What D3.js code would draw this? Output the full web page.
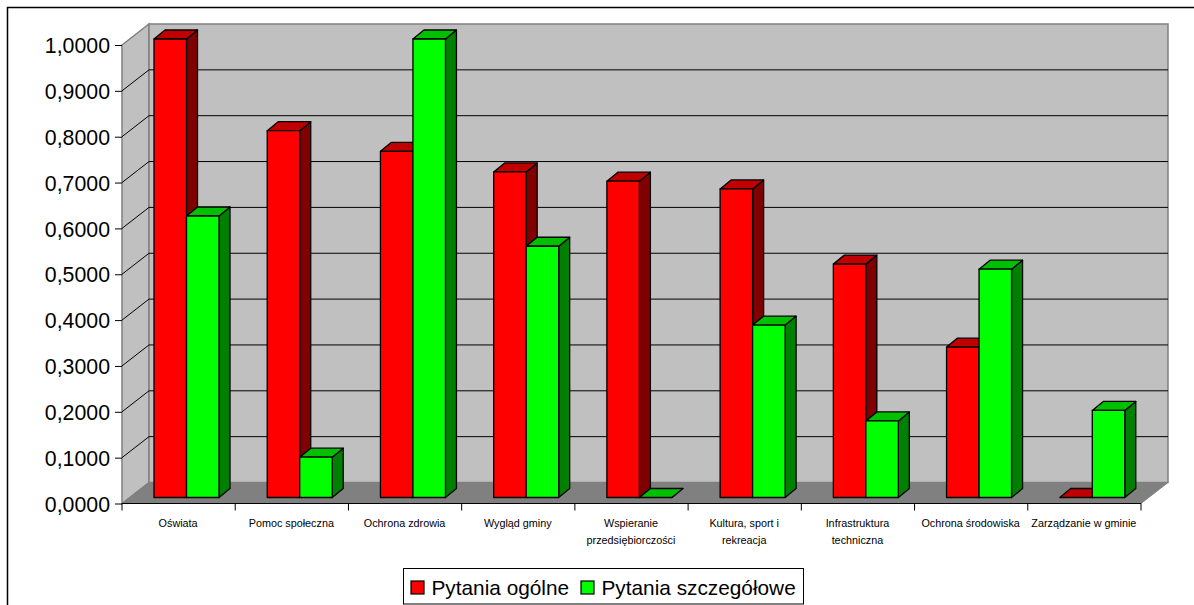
<!DOCTYPE html>
<html>
<head>
<meta charset="utf-8">
<script src="https://cdn.jsdelivr.net/npm/d3@7"></script>
<style>
  body { margin: 0; background: #fff; }
  svg { display: block; }
  text { font-family: "Liberation Sans", Arial, sans-serif; fill: #000; }
</style>
</head>
<body>
<script>
var categories = ["Oświata", "Pomoc społeczna", "Ochrona zdrowia", "Wygląd gminy", "Wspieranie\nprzedsiębiorczości",
  "Kultura, sport i\nrekreacja", "Infrastruktura\ntechniczna", "Ochrona środowiska", "Zarządzanie w gminie"];
var seriesNames = ["Pytania ogólne", "Pytania szczegółowe"];
var ogolne = [1.0, 0.8, 0.755, 0.71, 0.69, 0.673, 0.509, 0.328, 0];
var szczegolowe = [0.614, 0.088, 1.0, 0.548, 0, 0.376, 0.167, 0.498, 0.19];
var tickValues = [0, 0.1, 0.2, 0.3, 0.4, 0.5, 0.6, 0.7, 0.8, 0.9, 1];

var colors = { front: ["#ff0000", "#00ff00"], top: ["#c00000", "#00c000"], side: ["#800000", "#008000"] };

var svg = d3.select("body").append("svg").attr("width", 1194).attr("height", 605);

// outer frame, only top and left are visible
svg.append("path").attr("d", "M7.5,605V7.5H1194").attr("fill", "none").attr("stroke", "#000").attr("stroke-width", 1.5);

var x = d3.scaleBand().domain(categories).range([122, 1141]);
var y = d3.scaleLinear().domain([0, 1]).range([503.5, 45]);
var inner = d3.scaleBand().domain(seriesNames).range([0, 65]);

var wallDx = 27, wallDy = -21;     // depth of the whole box
var barDx = 8, barDy = -6;         // where bars stand on the floor
var depthX = 11, depthY = -9;      // depth of one bar
var groupLeft = 24;

// walls and floor
var x0 = x.range()[0], x1 = x.range()[1], yb = y(0), yt = y(1);
svg.append("polygon")
  .attr("points", [[x0, yt], [x0 + wallDx, yt + wallDy], [x0 + wallDx, yb + wallDy], [x0, yb]].join(" "))
  .attr("fill", "#c0c0c0").attr("stroke", "#808080").attr("stroke-width", 1.5);
svg.append("rect")
  .attr("x", x0 + wallDx).attr("y", yt + wallDy)
  .attr("width", x1 - x0).attr("height", yb - yt)
  .attr("fill", "#c0c0c0").attr("stroke", "#808080").attr("stroke-width", 1.5);
svg.append("polygon")
  .attr("points", [[x0, yb], [x0 + wallDx, yb + wallDy], [x1 + wallDx, yb + wallDy], [x1, yb]].join(" "))
  .attr("fill", "#808080").attr("stroke", "#808080");

// gridlines: along the side wall, then along the back wall
var grid = tickValues.slice(1, -1);
svg.selectAll("path.grid")
  .data(grid)
  .enter().append("path")
  .attr("class", "grid")
  .attr("fill", "none").attr("stroke", "#000").attr("stroke-width", 1)
  .attr("d", function (d) {
    return "M" + x0 + "," + y(d) + "L" + (x0 + wallDx) + "," + (y(d) + wallDy) + "H" + (x1 + wallDx);
  });

// y axis
var yAxis = d3.axisLeft(y).tickValues(tickValues).tickSize(7).tickPadding(5)
  .tickFormat(function (d) { return d3.format(".4f")(d).replace(".", ","); });
var gy = svg.append("g").attr("transform", "translate(" + x0 + ",0)").call(yAxis);
gy.select(".domain").remove();
gy.selectAll("text").attr("dy", "0.36em").style("font-size", "21.3px").style("font-family", '"Liberation Sans", Arial, sans-serif');

// x axis line and ticks between the categories
svg.append("line").attr("x1", x0).attr("x2", x1).attr("y1", yb).attr("y2", yb).attr("stroke", "#000").attr("stroke-width", 1.2);
svg.selectAll("line.xtick")
  .data(categories.map(function (c) { return x(c); }).concat([x1]))
  .enter().append("line")
  .attr("class", "xtick")
  .attr("x1", function (d) { return d; }).attr("x2", function (d) { return d; })
  .attr("y1", yb).attr("y2", yb + 7)
  .attr("stroke", "#000");

// category labels
svg.selectAll("text.cat")
  .data(categories)
  .enter().append("text")
  .attr("class", "cat")
  .attr("text-anchor", "middle")
  .style("font-size", "10.8px")
  .each(function (c) {
    d3.select(this).selectAll("tspan")
      .data(c.split("\n"))
      .enter().append("tspan")
      .attr("x", x(c) + x.bandwidth() / 2 - 0.5)
      .attr("y", function (d, i) { return 527 + i * 17; })
      .text(function (d) { return d; });
  });

// bars, red then green in each category so that green sits on top
var barData = [];
categories.forEach(function (c, i) {
  barData.push({ cat: c, s: 0, v: ogolne[i] });
  barData.push({ cat: c, s: 1, v: szczegolowe[i] });
});

var bars = svg.selectAll("g.bar")
  .data(barData)
  .enter().append("g")
  .attr("class", "bar")
  .attr("stroke", "#000").attr("stroke-width", 1.3).attr("stroke-linejoin", "round");

function barLeft(d) { return x(d.cat) + groupLeft + barDx + inner(seriesNames[d.s]); }
function barBottom() { return y(0) + barDy; }
function barTop(d) { return y(d.v) + barDy; }
var w = inner.bandwidth();

bars.append("polygon")
  .attr("fill", function (d) { return colors.side[d.s]; })
  .attr("points", function (d) {
    var r = barLeft(d) + w;
    return [[r, barTop(d)], [r + depthX, barTop(d) + depthY], [r + depthX, barBottom() + depthY], [r, barBottom()]].join(" ");
  });
bars.append("polygon")
  .attr("fill", function (d) { return colors.top[d.s]; })
  .attr("points", function (d) {
    var l = barLeft(d);
    return [[l, barTop(d)], [l + depthX, barTop(d) + depthY], [l + w + depthX, barTop(d) + depthY], [l + w, barTop(d)]].join(" ");
  });
bars.filter(function (d) { return d.v > 0; }).append("rect")
  .attr("fill", function (d) { return colors.front[d.s]; })
  .attr("x", barLeft)
  .attr("y", barTop)
  .attr("width", w)
  .attr("height", function (d) { return barBottom() - barTop(d); });

// legend
var legend = svg.append("g");
legend.append("rect").attr("x", 403.5).attr("y", 568.5).attr("width", 400).attr("height", 35.5)
  .attr("fill", "#fff").attr("stroke", "#000");
var legendX = d3.scaleOrdinal().domain(seriesNames).range([411, 581]);
var items = legend.selectAll("g").data(seriesNames).enter().append("g");
items.append("rect")
  .attr("x", function (d) { return legendX(d); }).attr("y", 581)
  .attr("width", 13).attr("height", 13)
  .attr("fill", function (d, i) { return colors.front[i]; })
  .attr("stroke", "#000").attr("stroke-width", 1.2);
items.append("text")
  .attr("x", function (d) { return legendX(d) + 20.5; }).attr("y", 594.5)
  .style("font-size", "20.8px")
  .text(function (d) { return d; });
</script>
</body>
</html>
